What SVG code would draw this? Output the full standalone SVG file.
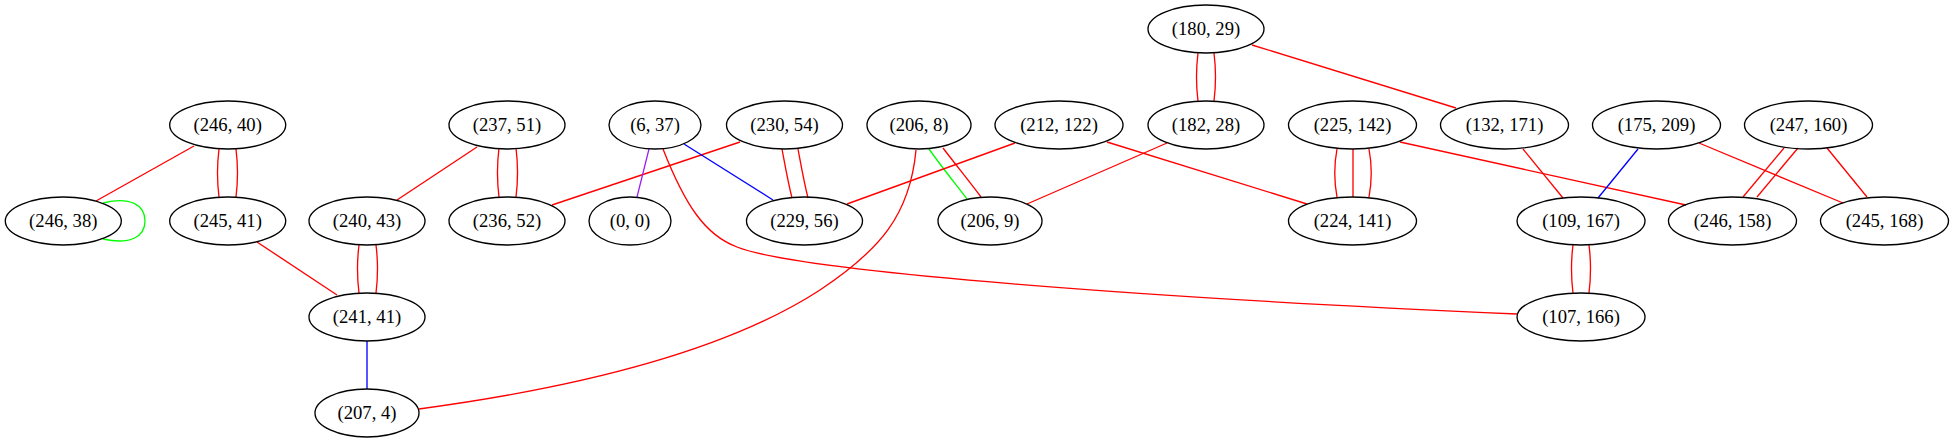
<svg xmlns="http://www.w3.org/2000/svg" width="1954" height="443" viewBox="0 0 1954 443">
<style>
.n ellipse{fill:none;stroke:#000;stroke-width:1.33}
.n text{font-family:"Liberation Serif","Times New Roman",serif;font-size:18.67px;text-anchor:middle;fill:#000}
#edges path{fill:none;stroke-width:1.33}
.r{stroke:#ff0000}
.g{stroke:#00ff00}
.b{stroke:#0000ff}
.p{stroke:#a020f0}
</style>
<rect width="1954" height="443" fill="#fff"/>
<g id="edges">
<path class="r" d="M194,146 L96,201"/>
<path class="g" d="M103,203 C130,196 145,205 145,221 C145,237 130,245 103,239"/>
<path class="r" d="M219,149 C217,165 217,181 219,197"/>
<path class="r" d="M236,149 C238,165 238,181 236,197"/>
<path class="r" d="M257,242 L337,295"/>
<path class="r" d="M359,245 C357,261 357,277 359,293"/>
<path class="r" d="M376,245 C378,261 378,277 376,293"/>
<path class="b" d="M367,341 L367,389"/>
<path class="r" d="M477,147 L397,200"/>
<path class="r" d="M499,148 C497,164 497,181 499,197"/>
<path class="r" d="M516,148 C518,164 518,181 516,197"/>
<path class="r" d="M740,142 L552,205"/>
<path class="p" d="M649,149 L637,197"/>
<path class="b" d="M684,144 L773,200"/>
<path class="r" d="M782,149 C785,165 788,182 792,198"/>
<path class="r" d="M798,149 C801,165 804,182 808,198"/>
<path class="r" d="M663,149 C685,205 705,235 737,247 C800,272 1150,298 1517,314"/>
<path class="r" d="M916,150 C910,215 880,250 820,290 C720,355 560,390 419,409"/>
<path class="g" d="M929,149 C941,166 954,182 967,199"/>
<path class="r" d="M943,148 C956,165 969,181 981,197"/>
<path class="r" d="M1015,143 L847,204"/>
<path class="r" d="M1107,142 L1307,204"/>
<path class="r" d="M1167,143 L1027,204"/>
<path class="r" d="M1198,53 C1196,69 1196,85 1198,101"/>
<path class="r" d="M1214,53 C1216,69 1216,85 1214,101"/>
<path class="r" d="M1252,45 L1456,108"/>
<path class="r" d="M1337,149 C1334,165 1334,181 1337,197"/>
<path class="r" d="M1353,149 L1353,197"/>
<path class="r" d="M1369,149 C1372,165 1372,181 1369,197"/>
<path class="r" d="M1400,142 L1686,205"/>
<path class="r" d="M1523,149 L1563,198"/>
<path class="b" d="M1638,149 L1598,198"/>
<path class="r" d="M1699,143 L1843,203"/>
<path class="r" d="M1784,148 L1743,197"/>
<path class="r" d="M1798,148 L1757,197"/>
<path class="r" d="M1827,148 L1867,197"/>
<path class="r" d="M1573,245 C1571,261 1571,277 1573,293"/>
<path class="r" d="M1589,245 C1591,261 1591,277 1589,293"/>
</g>
<g id="n_246_40" class="n"><ellipse cx="227.7" cy="125" rx="58" ry="24"/><text x="227.7" y="131">(246, 40)</text></g>
<g id="n_246_38" class="n"><ellipse cx="63.3" cy="221" rx="58" ry="24"/><text x="63.3" y="227">(246, 38)</text></g>
<g id="n_245_41" class="n"><ellipse cx="227.7" cy="221" rx="58" ry="24"/><text x="227.7" y="227">(245, 41)</text></g>
<g id="n_240_43" class="n"><ellipse cx="367" cy="221" rx="58" ry="24"/><text x="367" y="227">(240, 43)</text></g>
<g id="n_241_41" class="n"><ellipse cx="367" cy="317" rx="58" ry="24"/><text x="367" y="323">(241, 41)</text></g>
<g id="n_207_4" class="n"><ellipse cx="367" cy="413" rx="52" ry="24"/><text x="367" y="419">(207, 4)</text></g>
<g id="n_237_51" class="n"><ellipse cx="507" cy="125" rx="58" ry="24"/><text x="507" y="131">(237, 51)</text></g>
<g id="n_236_52" class="n"><ellipse cx="507" cy="221" rx="58" ry="24"/><text x="507" y="227">(236, 52)</text></g>
<g id="n_6_37" class="n"><ellipse cx="655" cy="125" rx="46" ry="24"/><text x="655" y="131">(6, 37)</text></g>
<g id="n_0_0" class="n"><ellipse cx="630" cy="221" rx="41" ry="24"/><text x="630" y="227">(0, 0)</text></g>
<g id="n_230_54" class="n"><ellipse cx="784.5" cy="125" rx="58" ry="24"/><text x="784.5" y="131">(230, 54)</text></g>
<g id="n_229_56" class="n"><ellipse cx="804.5" cy="221" rx="58" ry="24"/><text x="804.5" y="227">(229, 56)</text></g>
<g id="n_206_8" class="n"><ellipse cx="919" cy="125" rx="52" ry="24"/><text x="919" y="131">(206, 8)</text></g>
<g id="n_206_9" class="n"><ellipse cx="990" cy="221" rx="52" ry="24"/><text x="990" y="227">(206, 9)</text></g>
<g id="n_212_122" class="n"><ellipse cx="1059" cy="125" rx="64" ry="24"/><text x="1059" y="131">(212, 122)</text></g>
<g id="n_180_29" class="n"><ellipse cx="1206" cy="29" rx="58" ry="24"/><text x="1206" y="35">(180, 29)</text></g>
<g id="n_182_28" class="n"><ellipse cx="1206" cy="125" rx="58" ry="24"/><text x="1206" y="131">(182, 28)</text></g>
<g id="n_225_142" class="n"><ellipse cx="1352.5" cy="125" rx="64" ry="24"/><text x="1352.5" y="131">(225, 142)</text></g>
<g id="n_224_141" class="n"><ellipse cx="1352.5" cy="221" rx="64" ry="24"/><text x="1352.5" y="227">(224, 141)</text></g>
<g id="n_132_171" class="n"><ellipse cx="1504.5" cy="125" rx="64" ry="24"/><text x="1504.5" y="131">(132, 171)</text></g>
<g id="n_109_167" class="n"><ellipse cx="1581" cy="221" rx="64" ry="24"/><text x="1581" y="227">(109, 167)</text></g>
<g id="n_107_166" class="n"><ellipse cx="1581" cy="317" rx="64" ry="24"/><text x="1581" y="323">(107, 166)</text></g>
<g id="n_175_209" class="n"><ellipse cx="1656.5" cy="125" rx="64" ry="24"/><text x="1656.5" y="131">(175, 209)</text></g>
<g id="n_247_160" class="n"><ellipse cx="1808.5" cy="125" rx="64" ry="24"/><text x="1808.5" y="131">(247, 160)</text></g>
<g id="n_246_158" class="n"><ellipse cx="1732.5" cy="221" rx="64" ry="24"/><text x="1732.5" y="227">(246, 158)</text></g>
<g id="n_245_168" class="n"><ellipse cx="1884.5" cy="221" rx="64" ry="24"/><text x="1884.5" y="227">(245, 168)</text></g>
</svg>
